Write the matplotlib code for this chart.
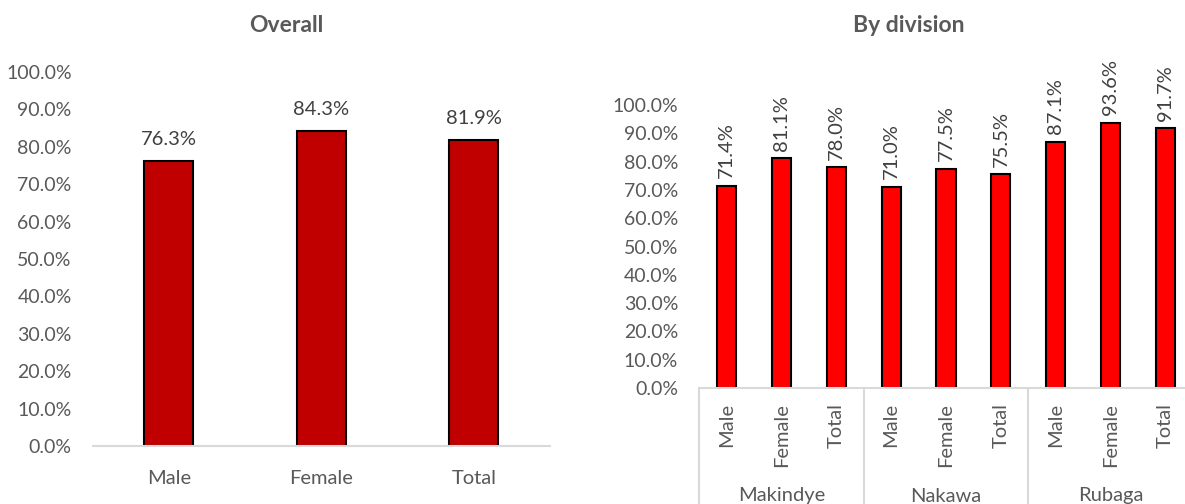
import matplotlib.pyplot as plt
from matplotlib.ticker import PercentFormatter
import matplotlib.transforms as mtrans

plt.rcParams['font.family'] = ['Lato', 'DejaVu Sans']

# overall coverage
sexes = ["Male", "Female", "Total"]
overall = [76.3, 84.3, 81.9]

# coverage by division
divisions = ["Makindye", "Nakawa", "Rubaga"]
makindye = [71.4, 81.1, 78.0]
nakawa = [71.0, 77.5, 75.5]
rubaga = [87.1, 93.6, 91.7]

W, H = 1185, 504
fig = plt.figure(figsize=(W / 100, H / 100), dpi=100)

tick_col = "#595959"
lab_col = "#404040"
axis_col = "#d9d9d9"
fs = 14.5

def px(x0, y_top, w, h):
    # pixel box (left, top, width, height) -> figure fraction rect
    return [x0 / W, (H - y_top - h) / H, w / W, h / H]

def style(ax):
    for s in ["top", "right", "left"]:
        ax.spines[s].set_visible(False)
    ax.spines["bottom"].set_color(axis_col)
    ax.spines["bottom"].set_linewidth(1.5)
    ax.tick_params(length=0, colors=tick_col, labelsize=fs)
    ax.tick_params(axis="y", labelsize=14, pad=15)
    ax.set_ylim(0, 100)
    ax.set_yticks(range(0, 101, 10))
    ax.yaxis.set_major_formatter(PercentFormatter(decimals=1))

# ---- Overall
ax1 = fig.add_axes(px(92.5, 72, 457.5, 374))
style(ax1)
x1 = range(len(sexes))
ax1.bar(x1, overall, width=0.32, color="#C00000", edgecolor="black", linewidth=1.5)
ax1.set_xlim(-0.5, 2.5)
ax1.set_xticks(list(x1))
ax1.set_xticklabels(sexes)
ax1.tick_params(axis="x", pad=17)
for i, v in enumerate(overall):
    ax1.annotate(f"{v:.1f}%", (i, v), xytext=(0, 11), textcoords="offset points",
                 ha="center", va="baseline", fontsize=fs, color=lab_col)
fig.text(286 / W, 1 - 25 / H, "Overall", ha="center", va="center",
         fontsize=16.5, fontweight="bold", color=tick_col)

# ---- By division
vals = makindye + nakawa + rubaga
ax2 = fig.add_axes(px(699, 105, 494, 283))
style(ax2)
x2 = range(len(vals))
ax2.bar(x2, vals, width=0.35, color="#FF0000", edgecolor="black", linewidth=1.5)
ax2.set_xlim(-0.5, len(vals) - 0.5)
ax2.set_xticks(list(x2))
ax2.set_xticklabels(sexes * len(divisions), rotation=90, va="top")
ax2.tick_params(axis="x", pad=11)
for i, v in enumerate(vals):
    ax2.annotate(f"{v:.1f}%", (i, v), xytext=(0, 5.5), textcoords="offset points",
                 ha="center", va="bottom", rotation=90, fontsize=fs, color=lab_col)

# group separators and division names under the axis
tr = mtrans.blended_transform_factory(ax2.transData, fig.transFigure)
y_axis = (H - 388) / H
for b in [-0.5, 2.5, 5.5, 8.5]:
    ax2.plot([b, b], [0, y_axis], color=axis_col, lw=1.5, transform=tr, clip_on=False)
for g, name in enumerate(divisions):
    ax2.text(3 * g + 1, (H - 496) / H, name, transform=tr, ha="center", va="center",
             fontsize=fs, color=tick_col)
fig.text(909 / W, 1 - 25 / H, "By division", ha="center", va="center",
         fontsize=16.5, fontweight="bold", color=tick_col)

fig.savefig("out.png", dpi=100)
